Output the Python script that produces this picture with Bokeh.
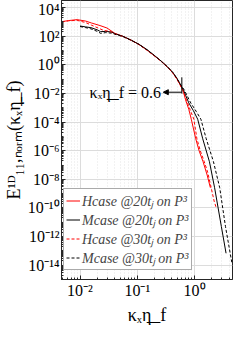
from bokeh.plotting import figure
from bokeh.models import (FixedTicker, CustomJSTickFormatter, Legend, LegendItem,
                          Arrow, NormalHead, Label)
from bokeh.embed import file_html
from bokeh.resources import INLINE

# ---------------- data ----------------
h20_k = [0.0048, 0.0063, 0.0089, 0.0126, 0.0158, 0.0224, 0.0295, 0.0407, 0.0562,
         0.0794, 0.107, 0.148, 0.2, 0.263, 0.339, 0.417, 0.49, 0.562, 0.631,
         0.697, 0.794, 0.877, 1.05, 1.2, 1.41, 1.66, 1.89]
h20_E = [1.05e3, 1.25e3, 1.45e3, 1.15e3, 8.5e2, 5.6e2, 3.8e2, 1.6e2, 1.0e2,
         5.2e1, 2.7e1, 1.1e1, 4.3, 1.8, 0.69, 0.28, 0.11, 0.04, 1.6e-2,
         3.6e-3, 7.9e-4, 1.6e-4, 6.8e-6, 1.0e-6, 1.7e-7, 2.0e-8, 2.6e-9]

m20_k = [0.0100, 0.0126, 0.0155, 0.02, 0.0229, 0.0282, 0.0355, 0.0407, 0.0562,
         0.0794, 0.107, 0.148, 0.2, 0.263, 0.339, 0.417, 0.49, 0.562, 0.638,
         0.794, 0.955, 1.135, 1.39, 1.82, 2.24, 2.94, 3.55]
m20_E = [5.2e2, 4.5e2, 4.0e2, 2.8e2, 2.1e2, 2.2e2, 2.0e2, 1.5e2, 1.0e2,
         5.2e1, 2.75e1, 1.17e1, 4.5, 1.8, 0.72, 0.3, 0.12, 0.045, 1.8e-2,
         2.2e-3, 6.3e-4, 1.6e-4, 6.8e-6, 1.7e-7, 2.6e-9, 5.0e-12, 6.8e-14]

h30_k = [0.0048, 0.0063, 0.0089, 0.0126, 0.0158, 0.0224, 0.0263, 0.0316, 0.0407,
         0.0562, 0.0794, 0.107, 0.148, 0.2, 0.263, 0.339, 0.417, 0.49, 0.562,
         0.631, 0.724, 0.832, 0.973, 1.1, 1.26, 1.48, 1.7, 1.95, 2.2, 2.42]
h30_E = [1.0e3, 1.2e3, 1.3e3, 9.0e2, 6.0e2, 3.3e2, 2.5e2, 2.3e2, 1.45e2,
         9.5e1, 5.0e1, 2.6e1, 1.05e1, 4.1, 1.7, 0.66, 0.27, 0.105, 0.038,
         1.5e-2, 3.6e-3, 7.9e-4, 1.6e-4, 6.8e-6, 1.0e-6, 1.7e-7, 3.0e-8, 2.6e-9,
         3.0e-10, 8.7e-11]

m30_k = [0.0100, 0.0126, 0.0155, 0.02, 0.0229, 0.0282, 0.0355, 0.0407, 0.0562,
         0.0794, 0.107, 0.148, 0.2, 0.263, 0.339, 0.417, 0.49, 0.562, 0.66,
         0.857, 1.07, 1.29, 1.6, 2.14, 2.75, 3.47, 4.47]
m30_E = [4.8e2, 4.0e2, 3.3e2, 2.2e2, 1.6e2, 1.8e2, 1.65e2, 1.4e2, 9.5e1,
         5.1e1, 2.7e1, 1.12e1, 4.4, 1.75, 0.7, 0.29, 0.115, 0.045, 1.8e-2,
         2.2e-3, 5.6e-4, 1.6e-4, 6.8e-6, 1.7e-7, 2.6e-9, 5.0e-12, 1.6e-14]

series_labels = ["Hcase @20tⱼ on P³", "Mcase @20tⱼ on P³",
                 "Hcase @30tⱼ on P³", "Mcase @30tⱼ on P³"]

x_ticks = [1e-2, 1e-1, 1e0]
x_tick_labels = ["10⁻²", "10⁻¹", "10⁰"]
y_ticks = [1e-14, 1e-12, 1e-10, 1e-8, 1e-6, 1e-4, 1e-2, 1e0, 1e2, 1e4]
y_tick_labels = ["10⁻¹⁴", "10⁻¹²", "10⁻¹⁰", "10⁻⁸", "10⁻⁶", "10⁻⁴", "10⁻²",
                 "10⁰", "10²", "10⁴"]

marker_k = 0.6
marker_E_top = 1.35e-1
marker_E_bottom = 1.0e-2
arrow_E = 1.23e-2
arrow_k_end = 0.285
note_k = 0.26
note_E = 1.1e-2
note_text = "κₓη̲_f = 0.6"

x_label = "κₓη̲_f"
y_label = "E¹ᴰ₁₁,ₙₒᵣₘ(κₓη̲_f)"

# ---------------- figure ----------------
FONT = "Liberation Serif"
p = figure(width=233, height=327, x_axis_type="log", y_axis_type="log",
           x_range=(0.00475, 4.6), y_range=(1e-15, 10 ** 4.5),
           output_backend="svg", toolbar_location=None,
           min_border_top=0, min_border_right=1, min_border_left=0,
           min_border_bottom=0)
p.background_fill_color = "white"
p.outline_line_color = "#262626"
p.outline_line_width = 1

x_minor = [k * 10.0 ** e for e in range(-3, 1) for k in range(2, 10)]
y_minor = [k * 10.0 ** e for e in range(-15, 5) for k in range(1, 10)]
p.xaxis.ticker = FixedTicker(ticks=x_ticks, minor_ticks=x_minor)
p.yaxis.ticker = FixedTicker(ticks=y_ticks, minor_ticks=y_minor)

fmt_code = """
let best = 0, bd = Infinity;
for (let i = 0; i < vals.length; i++) {
  const d = Math.abs(Math.log10(vals[i]) - Math.log10(tick));
  if (d < bd) { bd = d; best = i; }
}
return labs[best];
"""
p.xaxis.formatter = CustomJSTickFormatter(args=dict(vals=x_ticks, labs=x_tick_labels), code=fmt_code)
p.yaxis.formatter = CustomJSTickFormatter(args=dict(vals=y_ticks, labs=y_tick_labels), code=fmt_code)

for ax in (p.xaxis, p.yaxis):
    ax.major_label_text_font = FONT
    ax.major_label_text_font_size = "16px"
    ax.major_label_text_color = "black"
    ax.axis_label_text_font = FONT
    ax.axis_label_text_font_style = "normal"
    ax.axis_label_text_color = "black"
    ax.axis_line_color = "#262626"
    ax.major_tick_in = 4
    ax.major_tick_out = 0
    ax.minor_tick_in = 2
    ax.minor_tick_out = 0
    ax.major_tick_line_color = "#262626"
    ax.minor_tick_line_color = "#262626"
    ax.major_label_standoff = 2

p.xaxis.axis_label = x_label
p.yaxis.axis_label = y_label
p.xaxis.axis_label_text_font_size = "18px"
p.yaxis.axis_label_text_font_size = "18px"
p.xaxis.axis_label_standoff = 3
p.yaxis.axis_label_standoff = 1

p.xgrid.grid_line_color = "#dcdcdc"
p.ygrid.grid_line_color = "#dcdcdc"
p.xgrid.minor_grid_line_color = "#e4e4e4"
p.xgrid.minor_grid_line_dash = "1 2"
p.ygrid.minor_grid_line_color = None

r1 = p.line(h20_k, h20_E, line_color="#ff0000", line_width=1)
r2 = p.line(m20_k, m20_E, line_color="black", line_width=1)
r3 = p.line(h30_k, h30_E, line_color="#ff0000", line_width=1, line_dash="3 2")
r4 = p.line(m30_k, m30_E, line_color="black", line_width=1, line_dash="3 2")

# marker and annotation
p.segment(x0=[marker_k], y0=[marker_E_top], x1=[marker_k], y1=[marker_E_bottom],
          line_color="black", line_width=1)
p.add_layout(Arrow(end=NormalHead(size=5, fill_color="black", line_color="black"),
                   x_start=marker_k, y_start=arrow_E, x_end=arrow_k_end, y_end=arrow_E,
                   line_color="black", line_width=1))
p.add_layout(Label(x=note_k, y=note_E, text=note_text, text_align="right",
                   text_baseline="middle", text_font=FONT, text_font_size="16px",
                   text_color="black"))

legend = Legend(items=[LegendItem(label=series_labels[0], renderers=[r1]),
                       LegendItem(label=series_labels[1], renderers=[r2]),
                       LegendItem(label=series_labels[2], renderers=[r3]),
                       LegendItem(label=series_labels[3], renderers=[r4])],
                location=(2, 9))
legend.label_text_font = FONT
legend.label_text_font_style = "italic"
legend.label_text_font_size = "14px"
legend.label_height = 15
legend.glyph_height = 15
legend.glyph_width = 14
legend.spacing = -3
legend.padding = 2
legend.margin = 0
legend.label_standoff = 2
legend.border_line_color = "#555555"
legend.border_line_width = 1
legend.background_fill_color = "white"
legend.background_fill_alpha = 1.0
p.add_layout(legend)

open("out.html", "w").write(file_html(p, INLINE))
